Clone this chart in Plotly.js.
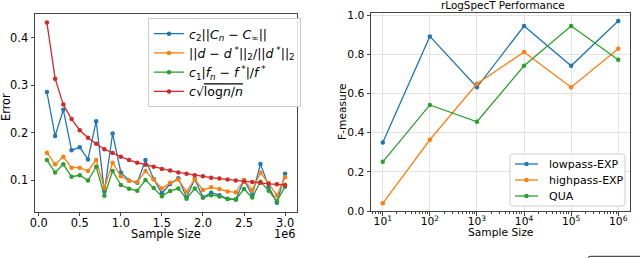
<!DOCTYPE html>
<html>
<head>
<meta charset="utf-8">
<script src="https://cdn.plot.ly/plotly-3.0.1.min.js"></script>
<style>html,body{margin:0;padding:0;background:#fff;}#chart{width:640px;height:258px;}</style>
</head>
<body>
<div id="chart"></div>
<script>
// Left panel: error vs sample size
const sampleSizes = [100000,200000,300000,400000,500000,600000,700000,800000,900000,1000000,
  1100000,1200000,1300000,1400000,1500000,1600000,1700000,1800000,1900000,2000000,
  2100000,2200000,2300000,2400000,2500000,2600000,2700000,2800000,2900000,3000000];
const errC = [0.2855,0.193,0.248,0.163,0.169,0.1435,0.224,0.0755,0.198,0.116,
  0.099,0.094,0.142,0.102,0.072,0.0916,0.1035,0.063,0.102,0.063,
  0.073,0.068,0.0605,0.059,0.100,0.068,0.134,0.086,0.052,0.113];
const errD = [0.1575,0.133,0.149,0.126,0.126,0.119,0.142,0.0825,0.1365,0.108,
  0.0985,0.0957,0.119,0.101,0.082,0.094,0.101,0.075,0.102,0.079,
  0.0845,0.081,0.076,0.074,0.100,0.079,0.1155,0.093,0.0675,0.106];
const errF = [0.142,0.116,0.133,0.107,0.110,0.099,0.128,0.067,0.119,0.0895,
  0.0817,0.0775,0.100,0.083,0.066,0.077,0.082,0.0605,0.082,0.063,
  0.068,0.0655,0.060,0.059,0.081,0.063,0.0965,0.0775,0.055,0.086];
const errBound = [0.432,0.3136,0.259,0.2285,0.205,0.189,0.1765,0.165,0.157,0.149,
  0.142,0.1365,0.132,0.128,0.123,0.120,0.116,0.113,0.110,0.108,
  0.105,0.103,0.101,0.099,0.097,0.096,0.094,0.092,0.091,0.0895];
const leftNames = [
  "<i>c</i><sub>2</sub>||<i>C<sub>n</sub></i> − <i>C</i><sub>∞</sub>||",
  "||<i>d</i> − <i>d</i><sup> *</sup>||<sub>2</sub>/||<i>d</i><sup> *</sup>||<sub>2</sub>",
  "<i>c</i><sub>1</sub>|<i>f<sub>n</sub></i> − <i>f</i><sup> *</sup>|/<i>f</i><sup> *</sup>",
  "<i>c</i>√<span style='text-decoration:overline'>log<i>n</i>/<i>n</i></span>"
];
const leftTickVals = [0,500000,1000000,1500000,2000000,2500000,3000000];
const leftTickText = ["0.0","0.5","1.0","1.5","2.0","2.5","3.0"];

// Right panel: F-measure
const logSizes = [10,100,1000,10000,100000,1000000];
const lowpassEXP = [0.350,0.892,0.632,0.945,0.742,0.971];
const highpassEXP = [0.039,0.364,0.650,0.812,0.632,0.829];
const qua = [0.251,0.542,0.456,0.742,0.945,0.773];
const rightNames = ["lowpass-EXP","highpass-EXP","QUA"];
const rightTickVals = [10,100,1000,10000,100000,1000000];
const rightTickText = ["10<sup>1</sup>","10<sup>2</sup>","10<sup>3</sup>","10<sup>4</sup>","10<sup>5</sup>","10<sup>6</sup>"];

const colors = ["#1f77b4","#ff7f0e","#2ca02c","#d62728"];
const font = "DejaVu Sans, sans-serif";
const W = 640, H = 258;
const px = v => v / W, py = v => 1 - v / H;

function tr(x, y, name, color, xa, ya, leg, show) {
  return {x: x, y: y, name: name, type: "scatter", mode: "lines+markers",
    line: {color: color, width: 1.3}, marker: {color: color, size: 4.5},
    xaxis: xa, yaxis: ya, legend: leg, showlegend: show};
}

const data = [
  tr(sampleSizes, errC, leftNames[0], colors[0], "x", "y", "legend", true),
  tr(sampleSizes, errD, leftNames[1], colors[1], "x", "y", "legend", true),
  tr(sampleSizes, errF, leftNames[2], colors[2], "x", "y", "legend", true),
  tr(sampleSizes, errBound, leftNames[3], colors[3], "x", "y", "legend", true),
  tr(logSizes, lowpassEXP, rightNames[0], colors[0], "x2", "y2", "legend", false),
  tr(logSizes, highpassEXP, rightNames[1], colors[1], "x2", "y2", "legend", false),
  tr(logSizes, qua, rightNames[2], colors[2], "x2", "y2", "legend", false)
];

// custom legend for the right panel (matplotlib-like compact spacing)
function roundRect(x0, y0, x1, y1, r) {
  const X = px, Y = py;
  return "M" + X(x0 + r) + "," + Y(y0) + " L" + X(x1 - r) + "," + Y(y0) +
    " Q" + X(x1) + "," + Y(y0) + " " + X(x1) + "," + Y(y0 + r) +
    " L" + X(x1) + "," + Y(y1 - r) +
    " Q" + X(x1) + "," + Y(y1) + " " + X(x1 - r) + "," + Y(y1) +
    " L" + X(x0 + r) + "," + Y(y1) +
    " Q" + X(x0) + "," + Y(y1) + " " + X(x0) + "," + Y(y1 - r) +
    " L" + X(x0) + "," + Y(y0 + r) +
    " Q" + X(x0) + "," + Y(y0) + " " + X(x0 + r) + "," + Y(y0) + " Z";
}
const shapes = [
  {type: "path", xref: "paper", yref: "paper", path: roundRect(510, 154, 625, 206, 3),
    fillcolor: "rgba(255,255,255,0.85)", line: {color: "#cccccc", width: 1}},
  {type: "path", xref: "paper", yref: "paper",
    path: "M" + px(588.5) + "," + py(259) + " L" + px(588.5) + "," + py(257.5) + " Q" + px(588.5) + "," + py(256.3) + " " + px(590) + "," + py(256.3) + " L" + px(641) + "," + py(256.3),
    line: {color: "#222", width: 1}}
];
const annotations = [];
rightNames.forEach((nm, i) => {
  const yy = 164 + i * 16;
  shapes.push({type: "line", xref: "paper", yref: "paper", x0: px(515), x1: px(538), y0: py(yy), y1: py(yy),
    line: {color: colors[i], width: 1.3}});
  shapes.push({type: "circle", xref: "paper", yref: "paper", x0: px(524.3), x1: px(528.7), y0: py(yy + 2.2), y1: py(yy - 2.2),
    fillcolor: colors[i], line: {color: colors[i], width: 0}});
  annotations.push({text: nm, x: px(547), y: py(yy), xref: "paper", yref: "paper", showarrow: false,
    xanchor: "left", yanchor: "middle", font: {size: 11}});
});

const axCommon = {showline: true, mirror: true, linecolor: "#444", linewidth: 1,
  ticks: "outside", ticklen: 3.5, tickcolor: "#444", zeroline: false, ticklabelstandoff: -3};

const layout = {
  width: W, height: H,
  margin: {l: 0, r: 0, t: 0, b: 0},
  paper_bgcolor: "#fff", plot_bgcolor: "#fff",
  font: {family: font, color: "#000", size: 11.4},
  showlegend: true,
  xaxis: Object.assign({}, axCommon, {domain: [35/W, 297/W], range: [-45000, 3145000],
    tickvals: leftTickVals, ticktext: leftTickText, showgrid: false, tickfont: {size: 11.4}, anchor: "y"}),
  yaxis: Object.assign({}, axCommon, {domain: [1-211.7/H, 1-14/H], range: [0.0332, 0.45], ticklabelstandoff: 0,
    tickvals: [0.1,0.2,0.3,0.4], ticktext: ["0.1","0.2","0.3","0.4"], showgrid: false, tickfont: {size: 11.4}, anchor: "x"}),
  xaxis2: Object.assign({}, axCommon, {domain: [371/W, 630/W], type: "log", range: [0.75, 6.25],
    tickvals: rightTickVals, ticktext: rightTickText, showgrid: true, gridcolor: "#e3e3e3", gridwidth: 1,
    tickfont: {size: 10.7}, anchor: "y2",
    minor: {ticks: "outside", ticklen: 2, tickcolor: "#444", dtick: "D1", showgrid: false}}),
  yaxis2: Object.assign({}, axCommon, {domain: [1-211/H, 1-13.3/H], range: [0, 1.01], ticklabelstandoff: 0,
    tickvals: [0,0.2,0.4,0.6,0.8,1.0], ticktext: ["0.0","0.2","0.4","0.6","0.8","1.0"],
    showgrid: true, gridcolor: "#e3e3e3", gridwidth: 1, tickfont: {size: 10.7}, anchor: "x2"}),
  legend: {x: 148/W, y: 1-18/H, xanchor: "left", yanchor: "top", bgcolor: "rgba(255,255,255,0.85)",
    bordercolor: "#cccccc", borderwidth: 1, font: {size: 12.5}, itemwidth: 30, tracegroupgap: 0},
  shapes: shapes,
  annotations: annotations.concat([
    {text: "Error", x: px(6), y: py(107), xref: "paper", yref: "paper", showarrow: false, textangle: -90, font: {size: 11.4}, xanchor: "center", yanchor: "middle"},
    {text: "Sample Size", x: px(165.7), y: py(234), xref: "paper", yref: "paper", showarrow: false, font: {size: 11.4}, xanchor: "center", yanchor: "middle"},
    {text: "1e6", x: px(284.7), y: py(234), xref: "paper", yref: "paper", showarrow: false, font: {size: 11.4}, xanchor: "center", yanchor: "middle"},
    {text: "F-measure", x: px(342), y: py(112), xref: "paper", yref: "paper", showarrow: false, textangle: -90, font: {size: 10.7}, xanchor: "center", yanchor: "middle"},
    {text: "Sample Size", x: px(500.5), y: py(232.7), xref: "paper", yref: "paper", showarrow: false, font: {size: 10.7}, xanchor: "center", yanchor: "middle"},
    {text: "rLogSpecT Performance", x: px(503), y: py(5), xref: "paper", yref: "paper", showarrow: false, font: {size: 10.4}, xanchor: "center", yanchor: "middle"}
  ])
};

Plotly.newPlot("chart", data, layout, {staticPlot: true, displayModeBar: false});
</script>
</body>
</html>
